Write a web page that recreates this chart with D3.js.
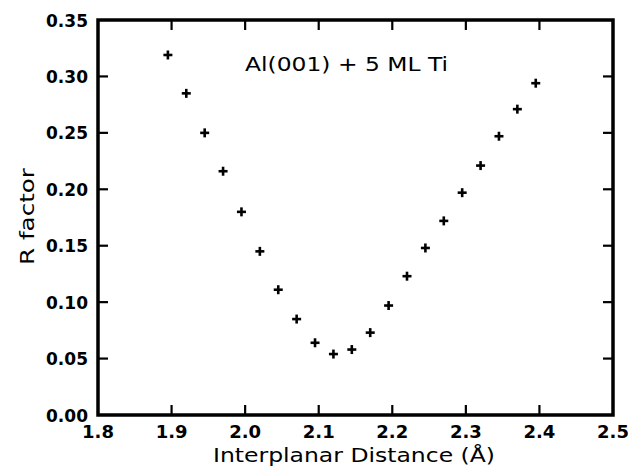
<!DOCTYPE html>
<html><head><meta charset="utf-8">
<script src="https://cdn.jsdelivr.net/npm/d3@7"></script>
<style>body{margin:0;background:#fff}svg{display:block}text{font-family:"DejaVu Sans",sans-serif;fill:#000}</style>
</head><body><svg id="c" width="628" height="467"></svg>
<script>
const distances = [1.895,1.920,1.945,1.970,1.995,2.020,2.045,2.070,2.095,2.120,2.145,2.170,2.195,2.220,2.245,2.270,2.295,2.320,2.345,2.370,2.395];
const rFactor = [0.319,0.285,0.250,0.216,0.180,0.145,0.111,0.085,0.064,0.054,0.058,0.073,0.097,0.123,0.148,0.172,0.197,0.221,0.247,0.271,0.294];
const xTicks = [1.8,1.9,2.0,2.1,2.2,2.3,2.4,2.5];
const yTicks = [0.00,0.05,0.10,0.15,0.20,0.25,0.30,0.35];
const title = "Al(001) + 5 ML Ti";
const xLabel = "Interplanar Distance (Å)";
const yLabel = "R factor";

const svg = d3.select("#c");
const L=98,R=613,T=20,B=415;
const x = d3.scaleLinear().domain([1.8,2.5]).range([L,R]);
const y = d3.scaleLinear().domain([0,0.35]).range([B,T]);

const tk = 10;
const g = svg.append("g").attr("stroke","#000").attr("stroke-width",2.2);
xTicks.slice(1,-1).forEach(v=>{
  g.append("line").attr("x1",x(v)).attr("x2",x(v)).attr("y1",B).attr("y2",B-tk);
  g.append("line").attr("x1",x(v)).attr("x2",x(v)).attr("y1",T).attr("y2",T+tk);
});
yTicks.slice(1,-1).forEach(v=>{
  g.append("line").attr("y1",y(v)).attr("y2",y(v)).attr("x1",L).attr("x2",L+tk);
  g.append("line").attr("y1",y(v)).attr("y2",y(v)).attr("x1",R).attr("x2",R-tk);
});
svg.append("rect").attr("x",L).attr("y",T).attr("width",R-L).attr("height",B-T)
  .attr("fill","none").attr("stroke","#000").attr("stroke-width",3.5);

svg.append("g").selectAll("text").data(xTicks).join("text")
  .attr("x",d=>x(d)).attr("y",438).attr("text-anchor","middle")
  .attr("font-size",18).attr("font-weight","bold").text(d=>d.toFixed(1));
svg.append("g").selectAll("text").data(yTicks).join("text")
  .attr("x",88).attr("y",d=>y(d)+6.5).attr("text-anchor","end")
  .attr("font-size",18).attr("font-weight","bold")
  .attr("textLength",42).attr("lengthAdjust","spacingAndGlyphs").text(d=>d.toFixed(2));

svg.append("text").attr("x",213).attr("y",462).attr("font-size",20)
  .attr("textLength",282).attr("lengthAdjust","spacingAndGlyphs").text(xLabel);
svg.append("text").attr("transform","translate(34,265) rotate(-90)")
  .attr("font-size",20).attr("textLength",97).attr("lengthAdjust","spacingAndGlyphs").text(yLabel);

svg.append("text").attr("x",245).attr("y",71).attr("font-size",19)
  .attr("textLength",203).attr("lengthAdjust","spacingAndGlyphs").text(title);

const s=4.5;
const pts = svg.append("g").attr("stroke","#000").attr("stroke-width",2.6);
distances.forEach((d,i)=>{
  const px=x(d), py=y(rFactor[i]);
  pts.append("line").attr("x1",px-s).attr("x2",px+s).attr("y1",py).attr("y2",py);
  pts.append("line").attr("x1",px).attr("x2",px).attr("y1",py-s).attr("y2",py+s);
});
</script></body></html>
